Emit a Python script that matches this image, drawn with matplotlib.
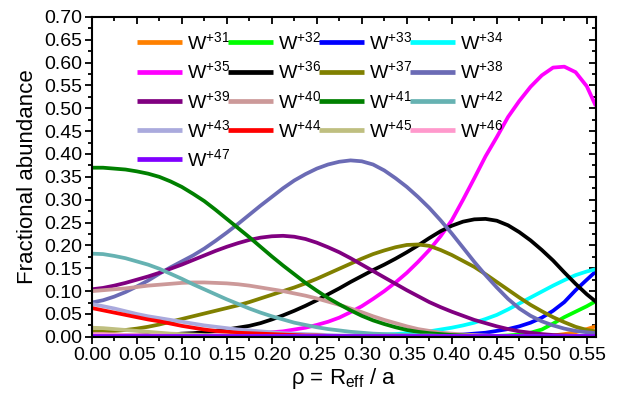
import matplotlib
matplotlib.use("Agg")
import matplotlib.pyplot as plt
from matplotlib.ticker import MultipleLocator, FormatStrFormatter

plt.rcParams["font.family"] = ["Liberation Sans", "DejaVu Sans"]
plt.rcParams["mathtext.fontset"] = "custom"
plt.rcParams["mathtext.rm"] = "Liberation Sans"

RHO = [0.0000, 0.0125, 0.0250, 0.0375, 0.0500, 0.0625, 0.0750, 0.0875,
       0.1000, 0.1125, 0.1250, 0.1375, 0.1500, 0.1625, 0.1750, 0.1875,
       0.2000, 0.2125, 0.2250, 0.2375, 0.2500, 0.2625, 0.2750, 0.2875,
       0.3000, 0.3125, 0.3250, 0.3375, 0.3500, 0.3625, 0.3750, 0.3875,
       0.4000, 0.4125, 0.4250, 0.4375, 0.4500, 0.4625, 0.4750, 0.4875,
       0.5000, 0.5125, 0.5250, 0.5375, 0.5500, 0.5600]

# fractional abundance of each tungsten charge state along rho
W31 = [0.000, 0.000, 0.000, 0.000, 0.000, 0.000, 0.000, 0.000,
       0.000, 0.000, 0.000, 0.000, 0.000, 0.000, 0.000, 0.000,
       0.000, 0.000, 0.000, 0.000, 0.000, 0.000, 0.000, 0.000,
       0.000, 0.000, 0.000, 0.000, 0.000, 0.000, 0.000, 0.000,
       0.000, 0.000, 0.000, 0.000, 0.000, 0.000, 0.000, 0.000,
       0.002, 0.003, 0.006, 0.010, 0.017, 0.023]
W32 = [0.000, 0.000, 0.000, 0.000, 0.000, 0.000, 0.000, 0.000,
       0.000, 0.000, 0.000, 0.000, 0.000, 0.000, 0.000, 0.000,
       0.000, 0.000, 0.000, 0.000, 0.000, 0.000, 0.000, 0.000,
       0.000, 0.000, 0.000, 0.000, 0.000, 0.000, 0.000, 0.000,
       0.001, 0.001, 0.001, 0.002, 0.002, 0.003, 0.005, 0.009,
       0.016, 0.029, 0.043, 0.055, 0.067, 0.078]
W33 = [0.000, 0.000, 0.000, 0.000, 0.000, 0.000, 0.000, 0.000,
       0.000, 0.000, 0.000, 0.000, 0.000, 0.000, 0.000, 0.000,
       0.000, 0.000, 0.000, 0.000, 0.000, 0.000, 0.001, 0.001,
       0.001, 0.001, 0.001, 0.001, 0.001, 0.002, 0.002, 0.003,
       0.004, 0.005, 0.007, 0.009, 0.013, 0.017, 0.023, 0.031,
       0.042, 0.057, 0.076, 0.102, 0.125, 0.143]
W34 = [0.000, 0.000, 0.000, 0.000, 0.000, 0.000, 0.000, 0.000,
       0.000, 0.000, 0.000, 0.000, 0.000, 0.000, 0.000, 0.000,
       0.001, 0.001, 0.001, 0.001, 0.001, 0.002, 0.002, 0.002,
       0.003, 0.004, 0.005, 0.006, 0.008, 0.010, 0.012, 0.016,
       0.020, 0.025, 0.031, 0.039, 0.048, 0.060, 0.073, 0.086,
       0.099, 0.112, 0.124, 0.135, 0.143, 0.148]
W35 = [0.001, 0.001, 0.001, 0.001, 0.001, 0.001, 0.001, 0.001,
       0.002, 0.002, 0.002, 0.003, 0.003, 0.004, 0.005, 0.007,
       0.010, 0.012, 0.016, 0.020, 0.026, 0.033, 0.042, 0.054,
       0.067, 0.083, 0.100, 0.119, 0.140, 0.164, 0.190, 0.220,
       0.255, 0.300, 0.347, 0.395, 0.437, 0.481, 0.516, 0.547,
       0.572, 0.589, 0.591, 0.579, 0.548, 0.505]
W36 = [0.002, 0.002, 0.002, 0.003, 0.003, 0.004, 0.004, 0.005,
       0.007, 0.008, 0.010, 0.013, 0.016, 0.020, 0.024, 0.030,
       0.038, 0.047, 0.057, 0.068, 0.080, 0.093, 0.106, 0.120,
       0.133, 0.146, 0.158, 0.171, 0.185, 0.200, 0.216, 0.231,
       0.243, 0.252, 0.257, 0.258, 0.254, 0.244, 0.229, 0.211,
       0.190, 0.167, 0.141, 0.116, 0.093, 0.077]
W37 = [0.012, 0.012, 0.013, 0.015, 0.018, 0.022, 0.027, 0.033,
       0.039, 0.045, 0.051, 0.057, 0.063, 0.069, 0.076, 0.084,
       0.092, 0.100, 0.108, 0.117, 0.127, 0.138, 0.149, 0.160,
       0.171, 0.181, 0.189, 0.196, 0.201, 0.202, 0.199, 0.190,
       0.179, 0.166, 0.153, 0.137, 0.120, 0.103, 0.086, 0.070,
       0.056, 0.043, 0.032, 0.022, 0.015, 0.012]
W38 = [0.075, 0.080, 0.088, 0.098, 0.110, 0.123, 0.138, 0.152,
       0.165, 0.178, 0.193, 0.210, 0.228, 0.247, 0.267, 0.287,
       0.306, 0.325, 0.342, 0.356, 0.368, 0.377, 0.383, 0.386,
       0.384, 0.377, 0.364, 0.347, 0.328, 0.306, 0.282, 0.255,
       0.226, 0.195, 0.164, 0.135, 0.108, 0.083, 0.062, 0.046,
       0.034, 0.025, 0.018, 0.013, 0.010, 0.008]
W39 = [0.104, 0.107, 0.112, 0.118, 0.125, 0.132, 0.140, 0.149,
       0.158, 0.168, 0.178, 0.188, 0.197, 0.205, 0.212, 0.217,
       0.220, 0.221, 0.219, 0.214, 0.206, 0.196, 0.185, 0.172,
       0.158, 0.144, 0.130, 0.116, 0.102, 0.089, 0.076, 0.065,
       0.055, 0.046, 0.037, 0.030, 0.023, 0.017, 0.012, 0.009,
       0.006, 0.004, 0.003, 0.002, 0.001, 0.001]
W40 = [0.100, 0.102, 0.104, 0.106, 0.109, 0.112, 0.114, 0.116,
       0.118, 0.119, 0.119, 0.118, 0.117, 0.115, 0.112, 0.108,
       0.104, 0.100, 0.095, 0.090, 0.084, 0.077, 0.070, 0.062,
       0.054, 0.045, 0.037, 0.030, 0.023, 0.017, 0.013, 0.009,
       0.007, 0.005, 0.004, 0.003, 0.002, 0.002, 0.001, 0.001,
       0.001, 0.001, 0.001, 0.001, 0.001, 0.001]
W41 = [0.370, 0.370, 0.368, 0.366, 0.362, 0.357, 0.350, 0.340,
       0.328, 0.313, 0.297, 0.278, 0.258, 0.238, 0.218, 0.197,
       0.176, 0.156, 0.137, 0.118, 0.101, 0.085, 0.071, 0.058,
       0.046, 0.036, 0.028, 0.021, 0.015, 0.011, 0.008, 0.006,
       0.004, 0.003, 0.002, 0.001, 0.001, 0.000, 0.000, 0.000,
       0.000, 0.000, 0.000, 0.000, 0.000, 0.000]
W42 = [0.182, 0.181, 0.177, 0.172, 0.165, 0.158, 0.149, 0.138,
       0.127, 0.115, 0.104, 0.093, 0.082, 0.072, 0.062, 0.053,
       0.045, 0.038, 0.031, 0.026, 0.021, 0.017, 0.014, 0.011,
       0.009, 0.007, 0.006, 0.005, 0.004, 0.003, 0.003, 0.002,
       0.002, 0.001, 0.001, 0.001, 0.001, 0.001, 0.001, 0.001,
       0.001, 0.001, 0.001, 0.001, 0.001, 0.001]
W43 = [0.072, 0.067, 0.062, 0.056, 0.050, 0.045, 0.041, 0.037,
       0.033, 0.029, 0.025, 0.022, 0.019, 0.016, 0.014, 0.012,
       0.010, 0.008, 0.007, 0.006, 0.005, 0.004, 0.003, 0.003,
       0.002, 0.002, 0.002, 0.001, 0.001, 0.001, 0.001, 0.001,
       0.001, 0.001, 0.001, 0.001, 0.001, 0.001, 0.001, 0.001,
       0.001, 0.001, 0.001, 0.001, 0.001, 0.001]
W44 = [0.063, 0.058, 0.053, 0.048, 0.043, 0.038, 0.034, 0.029,
       0.024, 0.020, 0.016, 0.013, 0.011, 0.009, 0.008, 0.007,
       0.006, 0.005, 0.004, 0.003, 0.003, 0.002, 0.002, 0.001,
       0.001, 0.001, 0.001, 0.001, 0.001, 0.001, 0.001, 0.001,
       0.001, 0.001, 0.001, 0.001, 0.001, 0.001, 0.001, 0.001,
       0.001, 0.001, 0.001, 0.001, 0.001, 0.001]
W45 = [0.020, 0.019, 0.017, 0.015, 0.013, 0.011, 0.009, 0.007,
       0.006, 0.005, 0.004, 0.003, 0.003, 0.002, 0.002, 0.001,
       0.001, 0.001, 0.001, 0.001, 0.001, 0.001, 0.001, 0.001,
       0.001, 0.001, 0.001, 0.001, 0.001, 0.001, 0.001, 0.001,
       0.001, 0.001, 0.001, 0.001, 0.001, 0.001, 0.001, 0.001,
       0.001, 0.001, 0.001, 0.001, 0.001, 0.001]
W46 = [0.006, 0.006, 0.005, 0.004, 0.004, 0.003, 0.003, 0.002,
       0.002, 0.002, 0.001, 0.001, 0.001, 0.001, 0.001, 0.001,
       0.001, 0.001, 0.001, 0.001, 0.001, 0.001, 0.001, 0.001,
       0.001, 0.001, 0.001, 0.001, 0.001, 0.001, 0.001, 0.001,
       0.001, 0.001, 0.001, 0.001, 0.001, 0.001, 0.001, 0.001,
       0.001, 0.001, 0.001, 0.001, 0.001, 0.001]
W47 = [0.002, 0.002, 0.002, 0.002, 0.002, 0.002, 0.002, 0.002,
       0.002, 0.002, 0.002, 0.002, 0.002, 0.002, 0.002, 0.002,
       0.002, 0.002, 0.002, 0.002, 0.002, 0.002, 0.002, 0.002,
       0.002, 0.002, 0.002, 0.002, 0.002, 0.002, 0.002, 0.002,
       0.002, 0.002, 0.002, 0.002, 0.002, 0.002, 0.002, 0.002,
       0.002, 0.002, 0.002, 0.002, 0.002, 0.002]

CHARGES = [31, 32, 33, 34, 35, 36, 37, 38, 39, 40, 41, 42, 43, 44, 45, 46, 47]
SERIES = [W31, W32, W33, W34, W35, W36, W37, W38, W39, W40, W41, W42, W43, W44, W45, W46, W47]
COLORS = ["#FF8000", "#00FF00", "#0000FF", "#00FFFF", "#FF00FF", "#000000", "#808000",
          "#6B6BB5", "#800080", "#CC9999", "#008000", "#66B2B2", "#AAAADD", "#FF0000",
          "#BFBF80", "#FF99CC", "#8000FF"]

fig = plt.figure(figsize=(6.2, 4.01), dpi=100)
ax = fig.add_axes([0.148, 0.160, 0.813, 0.798])

handles = []
for q, vals, col in zip(CHARGES, SERIES, COLORS):
    ln, = ax.plot(RHO, vals, color=col, linewidth=2.7, solid_joinstyle="round",
                  solid_capstyle="butt", label=r"$\mathregular{W^{+%d}}$" % q)
    handles.append(ln)

ax.set_xlim(0, 0.56)
ax.set_ylim(0, 0.70)
ax.xaxis.set_major_locator(MultipleLocator(0.05))
ax.xaxis.set_minor_locator(MultipleLocator(0.025))
ax.yaxis.set_major_locator(MultipleLocator(0.05))
ax.yaxis.set_minor_locator(MultipleLocator(0.025))
ax.xaxis.set_major_formatter(FormatStrFormatter("%.2f"))
ax.yaxis.set_major_formatter(FormatStrFormatter("%.2f"))

for s in ax.spines.values():
    s.set_linewidth(1.5)
ax.tick_params(which="both", labelsize=14, width=1.3, pad=2)
ax.tick_params(which="major", length=5)
ax.tick_params(which="minor", length=3)
ax.tick_params(which="both", bottom=True, left=True, direction="out")
ax.tick_params(which="both", top=True, right=True)
# top and right ticks point into the frame
for t in ax.xaxis.get_ticklines(minor=False)[1::2] + ax.xaxis.get_ticklines(minor=True)[1::2]:
    t.set_marker(3)
for t in ax.yaxis.get_ticklines(minor=False)[1::2] + ax.yaxis.get_ticklines(minor=True)[1::2]:
    t.set_marker(0)

ax.set_ylabel("Fractional abundance", fontsize=16, labelpad=4)
ax.set_xlabel(r"ρ = R$_{\mathregular{eff}}$ / a", fontsize=16, labelpad=2)

# legend is filled column by column, so reorder to read row by row
ncol = 4
order = [i for c in range(ncol) for i in range(c, len(handles), ncol)]
ax.legend([handles[i] for i in order], [handles[i].get_label() for i in order],
          loc="upper left", bbox_to_anchor=(0.075, 0.979), ncol=ncol, frameon=False,
          fontsize=14, handlelength=2.3, handletextpad=0.26, columnspacing=-0.1,
          labelspacing=0.375, borderaxespad=0)
for lh in ax.get_legend().get_lines():
    lh.set_linewidth(3.4)

fig.savefig("out.png", dpi=100)
